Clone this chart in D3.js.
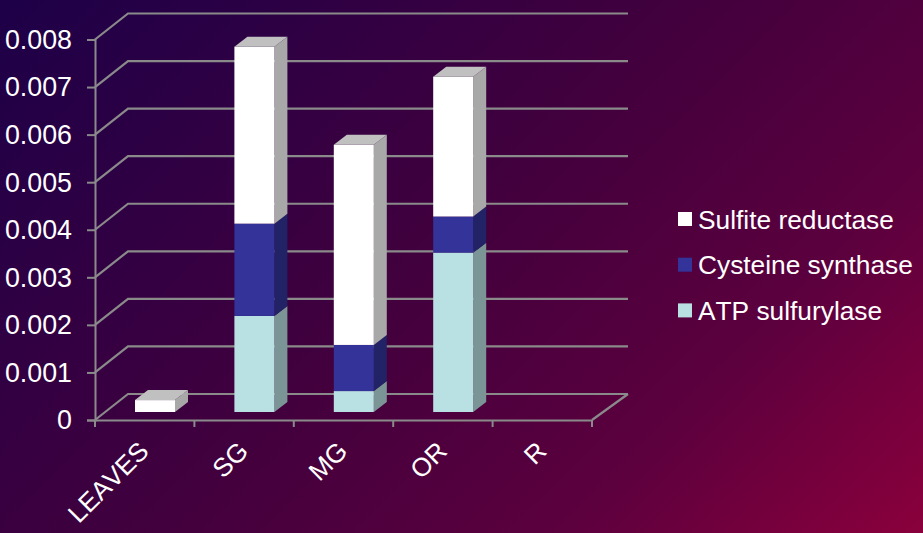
<!DOCTYPE html>
<html>
<head>
<meta charset="utf-8">
<script src="https://cdn.jsdelivr.net/npm/d3@7/dist/d3.min.js"></script>
<style>
html,body{margin:0;padding:0;width:923px;height:533px;overflow:hidden;background:#3a003c}
svg{display:block}
text{font-family:"Liberation Sans",Arial,sans-serif;fill:#fff;font-kerning:none}
</style>
</head>
<body>
<svg id="c" width="923" height="533"></svg>
<script>
const categories = ["LEAVES","SG","MG","OR","R"];
const atpSulfurylase = [0, 0.00202, 0.00044, 0.00335, 0];
const cysteineSynthase = [0, 0.00194, 0.00097, 0.00076, 0];
const sulfiteReductase = [0.00025, 0.00372, 0.00421, 0.00294, 0];
const seriesNames = ["ATP sulfurylase","Cysteine synthase","Sulfite reductase"];
const faceColors = ["#b9e0e3","#333399","#ffffff"];
const sideColors = ["#7b9597","#222266","#a8a8a8"];
const topColor = "#c0c0c0";
const yTicks = [0,0.001,0.002,0.003,0.004,0.005,0.006,0.007,0.008];

const svg = d3.select("#c");
const defs = svg.append("defs");
const g = defs.append("linearGradient").attr("id","bg")
  .attr("gradientUnits","userSpaceOnUse")
  .attr("x1",100).attr("y1",-100).attr("x2",823).attr("y2",633);
g.append("stop").attr("offset",0).attr("stop-color","#1d0048");
g.append("stop").attr("offset",0.5).attr("stop-color","#44003d");
g.append("stop").attr("offset",0.75).attr("stop-color","#5c003e");
g.append("stop").attr("offset",1).attr("stop-color","#8a003c");
svg.append("rect").attr("width",923).attr("height",533).attr("fill","url(#bg)");

const gridColor = "#8a8a8a";
const x = d3.scaleBand().domain(categories).range([95,592]);
const y = d3.scaleLinear().domain([0,0.008]).range([420,39.5]);
// oblique offsets of the 3D box
const wallDx = 33, wallDy = -26, barInsetY = -8, sideDx = 13, sideDy = -10;

// back wall gridlines
svg.append("g").selectAll("path").data(yTicks).join("path")
  .attr("fill","none").attr("stroke",gridColor).attr("stroke-width",2.2)
  .attr("d", d => d3.line()([[x.range()[0],y(d)],[x.range()[0]+wallDx,y(d)+wallDy],[x.range()[1]+wallDx+3,y(d)+wallDy]]));
// floor right edge
svg.append("path").attr("fill","none").attr("stroke",gridColor).attr("stroke-width",2.2)
  .attr("d", d3.line()([[x.range()[1],y(0)],[x.range()[1]+wallDx+3,y(0)+wallDy]]));

// axes
const axL = svg.append("g").attr("transform","translate(95,0)")
  .call(d3.axisLeft(y).tickValues(yTicks).tickSize(8).tickPadding(15)
    .tickFormat(d => d===0 ? "0" : d3.format(".3f")(d)));
const axB = svg.append("g").attr("transform","translate(0,420)")
  .call(d3.axisBottom(x).tickSize(0).tickFormat(""));
axB.selectAll("line.sep").data(d3.range(categories.length+1)).join("line")
  .attr("class","sep").attr("x1",i=>95+i*x.step()).attr("x2",i=>95+i*x.step())
  .attr("y1",0).attr("y2",7).attr("stroke",gridColor).attr("stroke-width",2);
[axL,axB].forEach(a=>{a.selectAll(".domain").attr("stroke",gridColor).attr("stroke-width",2);
  a.selectAll(".tick line").attr("stroke",gridColor).attr("stroke-width",2);});
axL.selectAll("text").attr("font-size",26.8).attr("fill","#fff").attr("x",-23).attr("dy","0.33em")
  .style("font-family",'"Liberation Sans",Arial,sans-serif');

// category labels
svg.append("g").selectAll("text").data(categories).join("text")
  .attr("font-size",26).attr("text-anchor","end")
  .attr("transform", d => `translate(${x(d)+x.bandwidth()/2-8},${439}) rotate(-45)`)
  .attr("dy","0.74em")
  .text(d=>d);

// stacked 3D bars
const values = [atpSulfurylase,cysteineSynthase,sulfiteReductase];
const rows = categories.map((c,i)=>({c,0:values[0][i],1:values[1][i],2:values[2][i]}));
const stacked = d3.stack().keys([0,1,2])(rows);
const barW = 40, barOff = 40;
const by = v => y(v)+barInsetY;
const poly = pts => d3.line()(pts)+"Z";
stacked.forEach((layer,si)=>{
  const gg = svg.append("g");
  layer.forEach(seg=>{
    const [v0,v1]=seg; if(v1-v0<=0) return;
    const xl=x(seg.data.c)+barOff, xr=xl+barW;
    gg.append("path").attr("fill",sideColors[si])
      .attr("d",poly([[xr,by(v0)],[xr+sideDx,by(v0)+sideDy],[xr+sideDx,by(v1)+sideDy],[xr,by(v1)]]));
    gg.append("rect").attr("x",xl).attr("y",by(v1)).attr("width",barW).attr("height",by(v0)-by(v1))
      .attr("fill",faceColors[si]);
    if(si===2) gg.append("path").attr("fill",topColor)
      .attr("d",poly([[xl,by(v1)],[xl+sideDx,by(v1)+sideDy],[xr+sideDx,by(v1)+sideDy],[xr,by(v1)]]));
  });
});

// legend
const legendOrder = [2,1,0];
const leg = svg.append("g").selectAll("g").data(legendOrder).join("g")
  .attr("transform",(d,i)=>`translate(678,${212+i*45.7})`);
leg.append("rect").attr("width",14).attr("height",14).attr("fill",d=>faceColors[d]);
leg.append("text").attr("x",20).attr("y",16.5).attr("font-size",26.3).text(d=>seriesNames[d]);
</script>
</body>
</html>
